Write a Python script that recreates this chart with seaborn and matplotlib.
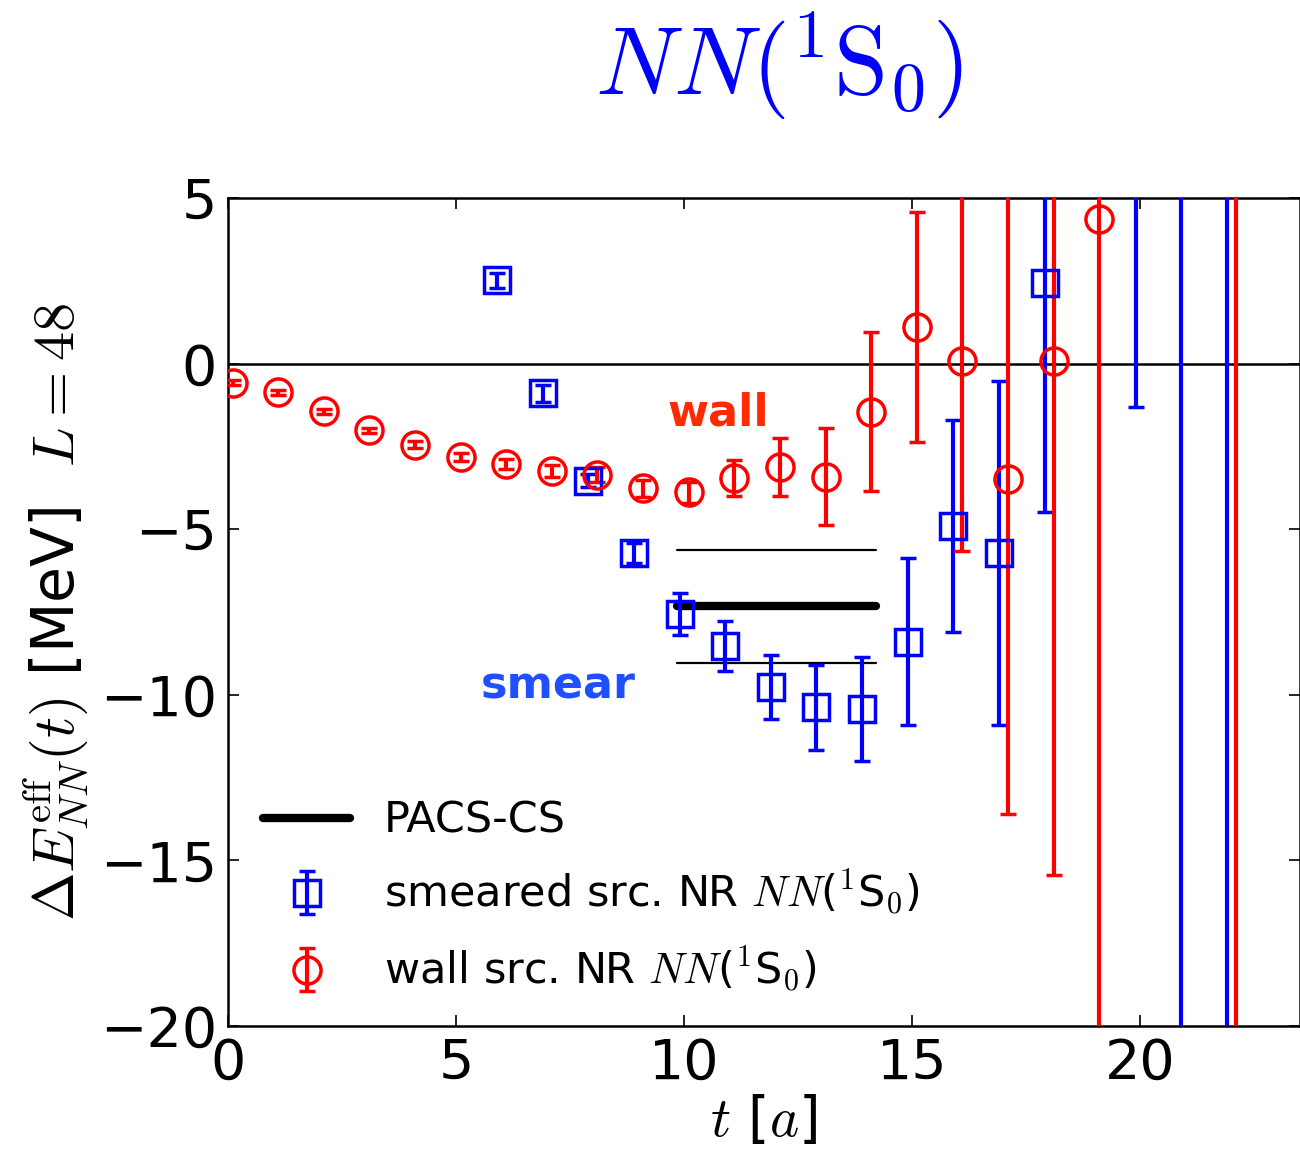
import numpy as np
import pandas as pd
import matplotlib
matplotlib.use("Agg")
import matplotlib.pyplot as plt
import seaborn as sns

# ---- data ----
wall_t = [0, 1, 2, 3, 4, 5, 6, 7, 8, 9, 10, 11, 12, 13, 14, 15, 16, 17, 18, 19, 22]
wall_E = [-0.58, -0.87, -1.44, -2.01, -2.45, -2.83, -3.03, -3.23, -3.35, -3.77, -3.89,
          -3.46, -3.13, -3.41, -1.45, 1.10, 0.07, -3.49, 0.07, 4.37, 30.0]
wall_err = [0.08, 0.08, 0.08, 0.08, 0.10, 0.12, 0.15, 0.18, 0.22, 0.26, 0.32,
            0.55, 0.87, 1.47, 2.40, 3.47, 5.74, 10.1, 15.5, 30.0, 80.0]

smear_t = [6, 7, 8, 9, 10, 11, 12, 13, 14, 15, 16, 17, 18, 20, 21, 22]
smear_E = [2.51, -0.90, -3.53, -5.71, -7.56, -8.52, -9.76, -10.38, -10.43, -8.40,
           -4.91, -5.73, 2.44, 8.0, 30.0, 30.0]
smear_err = [0.22, 0.25, 0.20, 0.30, 0.63, 0.76, 0.96, 1.29, 1.56, 2.52,
             3.20, 5.19, 6.93, 9.3, 80.0, 80.0]

pacs_center = -7.31
pacs_band = [-5.62, -9.03]
pacs_range = [9.85, 14.2]

# ---- style ----
sns.set_theme(style="ticks")
plt.rcParams["font.family"] = ["DejaVu Sans"]
plt.rcParams["mathtext.fontset"] = "cm"
plt.rcParams["text.color"] = "black"
plt.rcParams["axes.labelcolor"] = "black"
plt.rcParams["xtick.color"] = "black"
plt.rcParams["ytick.color"] = "black"

fig = plt.figure(figsize=(13, 11.54), dpi=100)
ax = fig.add_axes([228 / 1300, 1 - 1026 / 1154, 1072 / 1300, (1026 - 198) / 1154])

offset = 0.1
ax.axhline(0, color="black", lw=1.8, zorder=1)

# PACS-CS band
pacs_df = pd.DataFrame({"t": pacs_range * 3,
                        "E": [pacs_center] * 2 + [pacs_band[0]] * 2 + [pacs_band[1]] * 2,
                        "g": ["c", "c", "u", "u", "l", "l"]})
sns.lineplot(data=pacs_df[pacs_df.g == "c"], x="t", y="E", color="black", lw=6,
             ax=ax, label="PACS-CS", zorder=3)
sns.lineplot(data=pacs_df[pacs_df.g == "u"], x="t", y="E", color="black", lw=1.6,
             ax=ax, legend=False, zorder=3)
sns.lineplot(data=pacs_df[pacs_df.g == "l"], x="t", y="E", color="black", lw=1.6,
             ax=ax, legend=False, zorder=3)

ax.errorbar(np.array(smear_t) - offset, smear_E, yerr=smear_err, fmt="s",
            color="blue", mfc="none", mec="blue", mew=2.5, ms=19, elinewidth=3,
            capsize=5.5, capthick=3, label=r"smeared src. NR $NN$($^1$S$_0$)", zorder=4)
ax.errorbar(np.array(wall_t) + offset, wall_E, yerr=wall_err, fmt="o",
            color="red", mfc="none", mec="red", mew=2.5, ms=19.5, elinewidth=3,
            capsize=5.5, capthick=3, label=r"wall src. NR $NN$($^1$S$_0$)", zorder=4)

ax.text(10.75, -1.5, "wall", color="#ff2a00", fontsize=32, fontweight="bold",
        ha="center", va="center")
ax.text(7.24, -9.73, "smear", color="#1f4fff", fontsize=32, fontweight="bold",
        ha="center", va="center")

ax.set_xlim(0, 23.5)
ax.set_ylim(-20, 5)
ax.set_xticks([0, 5, 10, 15, 20])
ax.set_yticks([-20, -15, -10, -5, 0, 5])
ax.tick_params(direction="in", top=True, right=True, length=8, width=1.2,
               labelsize=40, pad=8)
for s in ax.spines.values():
    s.set_linewidth(1.8)
    s.set_color("black")

ax.set_xlabel(r"$t$ [$a$]", fontsize=40, labelpad=2)
ax.set_ylabel(r"$\Delta E^{\rm eff}_{NN}(t)$ [MeV]  $L=48$", fontsize=42, labelpad=6)

fig.text(779 / 1300, 1 - 66 / 1154, r"$NN(^1\mathrm{S}_0)$",
         color="blue", fontsize=70, ha="center", va="center")

leg = ax.legend(loc="lower left", frameon=False, fontsize=31, handlelength=2.0,
                borderaxespad=0.3, labelspacing=0.6, handletextpad=0.8,
                bbox_to_anchor=(0.005, 0.0))

fig.savefig("out.png", dpi=100)
